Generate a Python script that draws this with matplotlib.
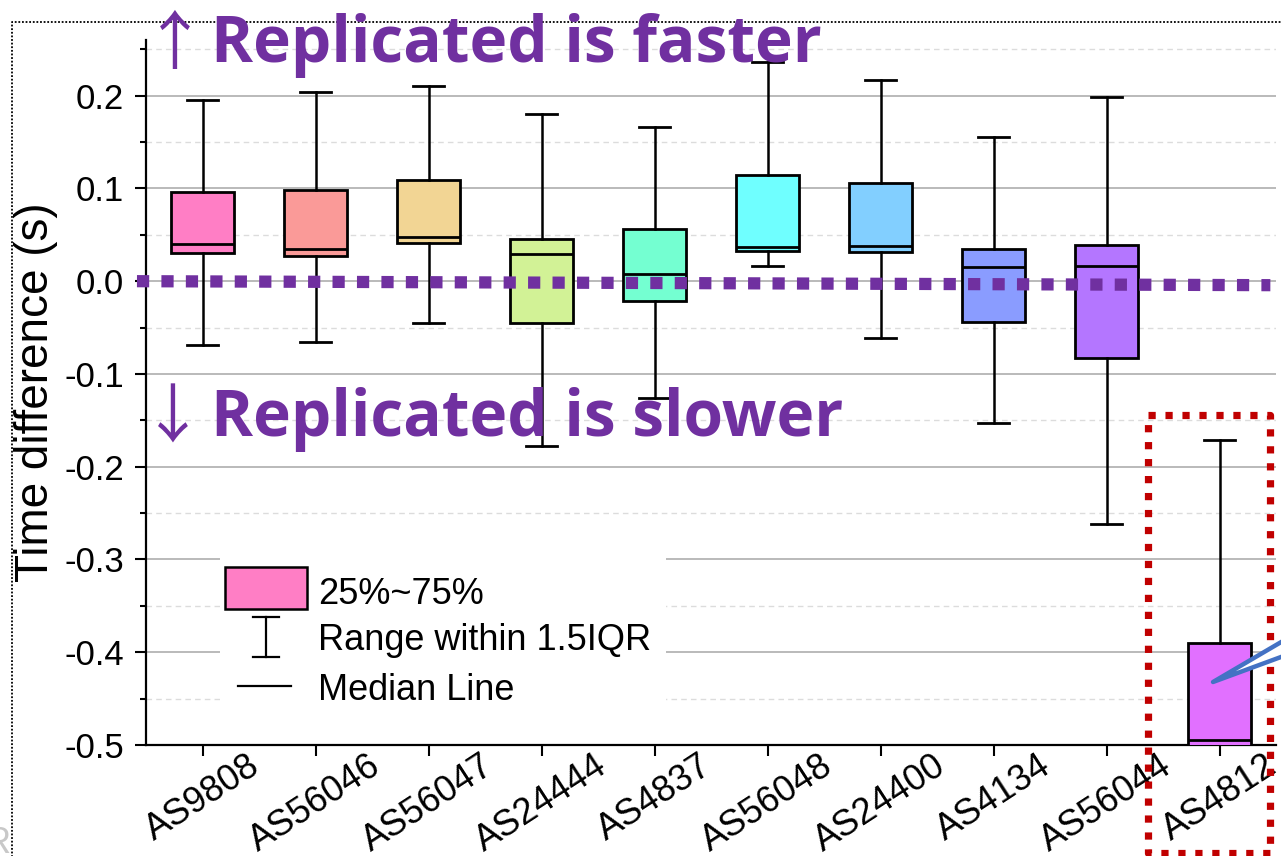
import matplotlib
matplotlib.use('Agg')
import matplotlib.pyplot as plt
from matplotlib.patches import Rectangle, Polygon
from matplotlib.lines import Line2D

plt.rcParams['font.family'] = ['Liberation Sans', 'DejaVu Sans']

categories = ['AS9808', 'AS56046', 'AS56047', 'AS24444', 'AS4837',
              'AS56048', 'AS24400', 'AS4134', 'AS56044', 'AS4812']
q1 = [0.0299, 0.0273, 0.0413, -0.0450, -0.0211, 0.0325, 0.0310, -0.0440, -0.0830, -0.505]
medians = [0.0399, 0.0345, 0.0471, 0.0297, 0.0075, 0.0368, 0.0380, 0.0154, 0.0169, -0.495]
q3 = [0.0963, 0.0982, 0.1090, 0.0458, 0.0558, 0.1148, 0.1060, 0.0348, 0.0385, -0.390]
whislo = [-0.0687, -0.0655, -0.0450, -0.1780, -0.1260, 0.0168, -0.0615, -0.1530, -0.2620, -0.620]
whishi = [0.1950, 0.2040, 0.2107, 0.1806, 0.1663, 0.2364, 0.2168, 0.1557, 0.1985, -0.171]
colors = ['#FF7EC5', '#FA9A98', '#F2D594', '#D2F296', '#74FFD1',
          '#6FFFFF', '#82CFFF', '#8A9CFF', '#B476FF', '#E170FF']
yticks = [-0.5, -0.4, -0.3, -0.2, -0.1, 0.0, 0.1, 0.2]
ylabel = 'Time difference (s)'
legend_labels = ['25%~75%', 'Range within 1.5IQR', 'Median Line']
zero_level = 0.0

W, H = 1281, 856
fig = plt.figure(figsize=(W / 100, H / 100), dpi=100)


def fp(x, y):
    return (x / W, 1 - y / H)


ax = fig.add_axes([146 / W, 1 - 745 / H, 1130 / W, 705 / H])

stats = []
for i in range(len(categories)):
    stats.append(dict(label=categories[i], q1=q1[i], med=medians[i], q3=q3[i],
                      whislo=whislo[i], whishi=whishi[i], fliers=[]))
pos = list(range(1, len(categories) + 1))
bp = ax.bxp(stats, positions=pos, widths=0.56, patch_artist=True, showfliers=False,
            boxprops=dict(linewidth=2.0, edgecolor='black'),
            whiskerprops=dict(linewidth=1.8, color='black'),
            capprops=dict(linewidth=2.0, color='black'),
            medianprops=dict(linewidth=2.0, color='black'),
            zorder=3)
for patch, c in zip(bp['boxes'], colors):
    patch.set_facecolor(c)

ax.set_xlim(0.5, len(categories) + 0.5)
ax.set_ylim(-0.5, 0.26)
ax.set_yticks(yticks)
ax.set_yticklabels(['%.1f' % v for v in yticks])
ax.set_yticks([v + 0.05 for v in yticks], minor=True)
ax.set_xticks(pos)
ax.set_xticklabels(categories, rotation=33, ha='center', va='top', fontsize=26)
ax.tick_params(axis='y', which='major', length=8, width=1.5, labelsize=25, pad=8)
ax.tick_params(axis='y', which='minor', length=4.5, width=1.5)
ax.tick_params(axis='x', which='major', length=8, width=1.5, pad=-5.5)
ax.tick_params(axis='x', which='minor', bottom=False)
ax.grid(True, which='major', axis='y', color='#B4B4B4', linewidth=1.3, zorder=0)
ax.grid(True, which='minor', axis='y', color='#DCDCDC', linewidth=1.0,
        linestyle=(0, (4, 3)), zorder=0)
ax.set_axisbelow(True)
for s in ['top', 'right']:
    ax.spines[s].set_visible(False)
for s in ['left', 'bottom']:
    ax.spines[s].set_linewidth(1.6)
ax.set_ylabel(ylabel, fontsize=33, ha='center', va='center')
ax.yaxis.set_label_coords((36 - 146) / 1130, 0.5)

# zero reference line (purple dotted)
ax.plot([0.42, len(categories) + 0.45], [zero_level, zero_level - 0.0043],
        color='#7030A0', linewidth=8.8, linestyle=(0, (1, 1)),
        solid_capstyle='butt', dash_capstyle='butt', clip_on=False, zorder=6)

# legend (drawn manually)
leg_ax_bg = Rectangle(((220 - 146) / 1130, (745 - 705) / 705), (666 - 220) / 1130,
                      (705 - 553) / 705, transform=ax.transAxes,
                      facecolor='white', edgecolor='none', zorder=1)
ax.add_patch(leg_ax_bg)
fig.patches.append(Rectangle(fp(225, 609), (307 - 225) / W, (609 - 567) / H,
                             transform=fig.transFigure, facecolor=colors[0],
                             edgecolor='black', linewidth=1.8, zorder=5))
for seg in [[(266, 617), (266, 657)], [(253, 617), (279, 617)], [(253, 657), (279, 657)],
            [(238, 686), (291, 686)]]:
    (x0, y0), (x1, y1) = seg
    a, b = fp(x0, y0), fp(x1, y1)
    fig.add_artist(Line2D([a[0], b[0]], [a[1], b[1]], transform=fig.transFigure,
                          color='black', linewidth=1.6, zorder=5))
for txt, yy in zip(legend_labels, [590, 637, 686]):
    fig.text(*fp(318, yy), txt, fontsize=26, ha='left', va='center_baseline', zorder=5)

# annotations
purple = '#7030A0'
fig.text(*fp(175, 64), '\u2191', fontsize=46, color=purple, ha='center', va='baseline',
         family=['Noto Sans CJK SC', 'DejaVu Sans'])
fig.text(*fp(211, 62), 'Replicated is faster', fontsize=46, color=purple, fontweight='bold',
         ha='left', va='baseline', family=['Open Sans', 'DejaVu Sans'])
fig.text(*fp(173, 438), '\u2193', fontsize=46, color=purple, ha='center', va='baseline',
         family=['Noto Sans CJK SC', 'DejaVu Sans'])
fig.text(*fp(211, 436), 'Replicated is slower', fontsize=46, color=purple, fontweight='bold',
         ha='left', va='baseline', family=['Open Sans', 'DejaVu Sans'])

# outer dotted frame
fr = [fp(12, 870), fp(12, 22), fp(1300, 22)]
fig.add_artist(Line2D([p[0] for p in fr], [p[1] for p in fr], transform=fig.transFigure,
                      color='black', linewidth=1.3, linestyle=(0, (1, 1)), zorder=1))

# red dotted highlight box
rb = [fp(1148, 415), fp(1270, 415), fp(1270, 853), fp(1148, 853), fp(1148, 415)]
fig.add_artist(Line2D([p[0] for p in rb], [p[1] for p in rb], transform=fig.transFigure,
                      color='#C00000', linewidth=5.2, linestyle=(0, (1, 1.35)),
                      dash_capstyle='butt', zorder=10))

# blue callout wedge
wedge = [fp(1213, 682), fp(1300, 631), fp(1300, 650)]
fig.patches.append(Polygon(wedge, closed=True, transform=fig.transFigure,
                           facecolor='white', edgecolor='#4472C4', linewidth=3.2,
                           joinstyle='round', zorder=11))

# faint clipped letter at the bottom-left corner
fig.text(*fp(11, 853), 'R', fontsize=26, color='#C8C8C8', ha='right', va='baseline')

fig.savefig('out.png', dpi=100)
